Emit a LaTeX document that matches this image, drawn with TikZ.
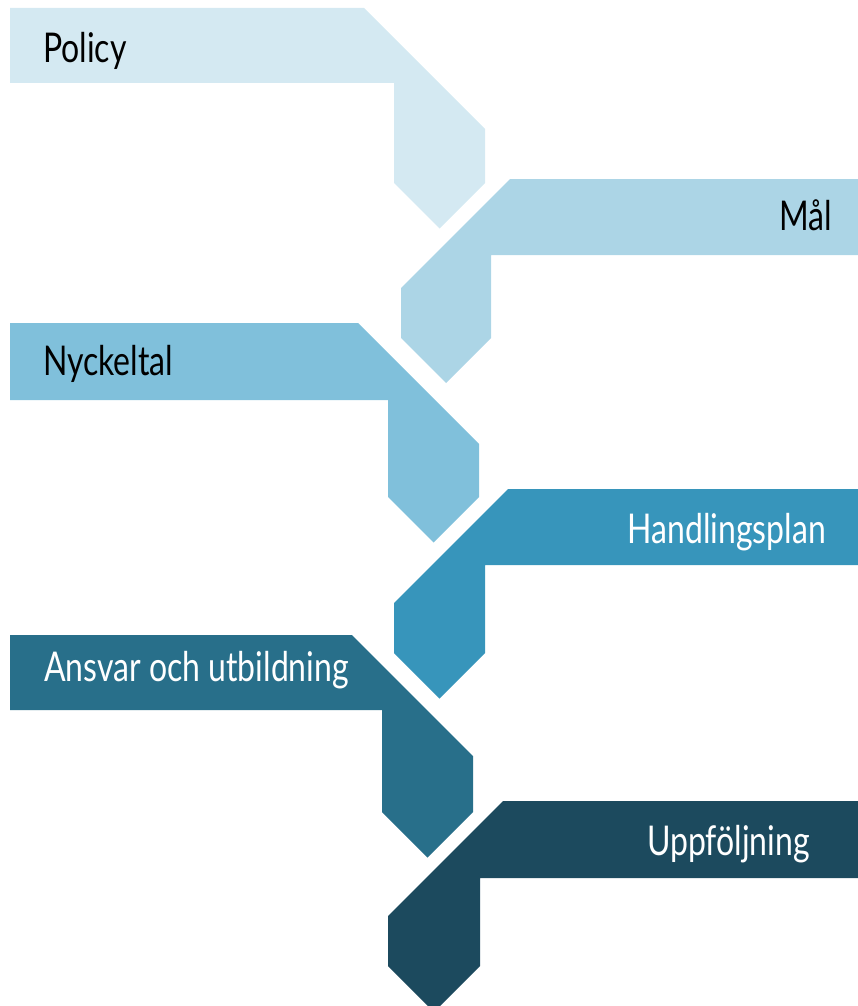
\documentclass[tikz,border=0pt]{standalone}
\usepackage{fontspec}
\usepackage{tikz}
\newfontfamily\stepfont{Lato}[FakeStretch=0.78]
\definecolor{stepone}{HTML}{D4E9F2}
\definecolor{steptwo}{HTML}{ACD5E6}
\definecolor{stepthree}{HTML}{80C0DB}
\definecolor{stepfour}{HTML}{3795BB}
\definecolor{stepfive}{HTML}{286F8A}
\definecolor{stepsix}{HTML}{1C4A5E}

\tikzset{
	steplabel/.style={inner sep=0pt, font=\stepfont\fontsize{41}{41}\selectfont},
	leftlabel/.style={steplabel, anchor=base west, text=black},
	rightlabel/.style={steplabel, anchor=base east},
}

\begin{document}
\begin{tikzpicture}[x=1pt, y=-1pt]
				\useasboundingbox (0,0) rectangle (858,1006);
				\clip (0,0) rectangle (858,1006);
				% left bars
				\fill[stepone] (10,8) -- (364,8) -- (485,129) -- (485,183) -- (439.5,228.5) -- (394,183) -- (394,83) -- (10,83) -- cycle;
				\fill[stepthree] (10,323) -- (358,323) -- (479,444) -- (479,497) -- (433.5,542.5) -- (388,497) -- (388,400) -- (10,400) -- cycle;
				\fill[stepfive] (10,635) -- (352,635) -- (473,756) -- (473,812) -- (427.5,857.5) -- (382,812) -- (382,710) -- (10,710) -- cycle;
				% right bars
				\fill[steptwo] (858,179) -- (510,179) -- (401,288) -- (401,338) -- (446,383) -- (491,338) -- (491,255) -- (858,255) -- cycle;
				\fill[stepfour] (858,489) -- (508,489) -- (394,603) -- (394,653) -- (439.5,698.5) -- (485,653) -- (485,565) -- (858,565) -- cycle;
				\fill[stepsix] (858,801) -- (503,801) -- (388,916) -- (388,966) -- (434,1012) -- (480,966) -- (480,878) -- (858,878) -- cycle;
				% labels
				\node[leftlabel] (policy) at (43,63) {Policy};
				\node[rightlabel, text=black] (maal) at (832,230) {Mål};
				\node[leftlabel] (nyckeltal) at (43,375) {Nyckeltal};
				\node[rightlabel, text=white] (handlingsplan) at (826,543) {Handlingsplan};
				\node[leftlabel, text=white] (ansvar) at (44,681) {Ansvar och utbildning};
				\node[rightlabel, text=white] (uppfoljning) at (810,855) {Uppföljning};
			\end{tikzpicture}
\end{document}
